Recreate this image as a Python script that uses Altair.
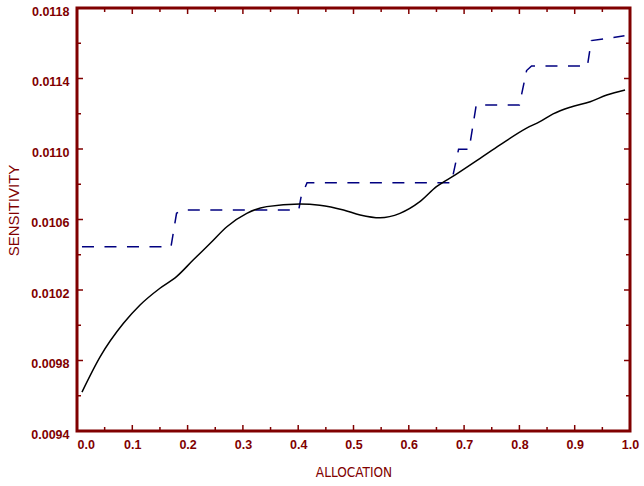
import altair as alt
import pandas as pd

# ---- data ----
curve_alloc = [0.009, 0.042, 0.084, 0.114, 0.150, 0.180, 0.210, 0.241, 0.271, 0.307,
               0.343, 0.403, 0.439, 0.482, 0.512, 0.548, 0.584, 0.620, 0.650, 0.684,
               0.729, 0.765, 0.813, 0.837, 0.861, 0.892, 0.928, 0.958, 0.991]
curve_sens = [0.009621, 0.009822, 0.010011, 0.010115, 0.010210, 0.010276, 0.010370,
              0.010465, 0.010559, 0.010635, 0.010673, 0.010688, 0.010681, 0.010654,
              0.010626, 0.010610, 0.010635, 0.010701, 0.010786, 0.010853, 0.010947,
              0.011023, 0.011118, 0.011155, 0.011199, 0.011237, 0.011268, 0.011306,
              0.011335]

step_alloc = [0.009, 0.170, 0.180, 0.190, 0.401, 0.405, 0.416, 0.677, 0.690, 0.709,
              0.722, 0.800, 0.813, 0.822, 0.923, 0.930, 0.990]
step_sens = [0.010446, 0.010446, 0.010635, 0.010654, 0.010654, 0.010725, 0.010809,
             0.010809, 0.010998, 0.010998, 0.011250, 0.011250, 0.011445, 0.011471,
             0.011471, 0.011615, 0.011642]

x_major = [0.0, 0.1, 0.2, 0.3, 0.4, 0.5, 0.6, 0.7, 0.8, 0.9, 1.0]
x_minor = [0.05, 0.15, 0.25, 0.35, 0.45, 0.55, 0.65, 0.75, 0.85, 0.95]
y_major = [0.0094, 0.0098, 0.0102, 0.0106, 0.0110, 0.0114, 0.0118]
y_minor = [0.0096, 0.0100, 0.0104, 0.0108, 0.0112, 0.0116]

# ---- styling ----
W, H = 553, 423
DARK = "#800000"
LABEL_FONT = "Liberation Sans"
XTITLE_FONT = "DejaVu Sans Condensed, Liberation Sans, sans-serif"
YTITLE_FONT = "Liberation Sans, sans-serif"

xscale = alt.Scale(domain=[0, 1], nice=False, zero=False)
yscale = alt.Scale(domain=[0.0094, 0.0118], nice=False, zero=False)

xaxis = alt.Axis(
    values=x_major, format=".1f", ticks=False, domain=False, grid=False,
    labelColor=DARK, labelFont=LABEL_FONT, labelFontSize=12.5, labelFontWeight="bold",
    labelPadding=7, labelOverlap=False,
    labelAlign={"condition": {"test": "datum.value === 0", "value": "left"}, "value": "center"},
    title="ALLOCATION", titleColor=DARK, titleFont=XTITLE_FONT, titleFontSize=13.5,
    titleFontWeight="normal", titleX=276.5, titleY=41, titleAlign="center",
    titleBaseline="middle",
)
yaxis = alt.Axis(
    values=y_major, format=".4f", ticks=False, domain=False, grid=False,
    labelColor=DARK, labelFont=LABEL_FONT, labelFontSize=12.5, labelFontWeight="bold",
    labelPadding=8, labelOverlap=False, labelOffset=3,
    title="SENSITIVITY", titleColor=DARK, titleFont=YTITLE_FONT, titleFontSize=15,
    titleFontWeight="normal", titleX=-64, titleY=202, titleAngle=-90,
    titleAlign="center", titleBaseline="middle",
)

X = alt.X("alloc:Q", scale=xscale, axis=xaxis)
Y = alt.Y("sens:Q", scale=yscale, axis=yaxis)

curve_df = pd.DataFrame({"alloc": curve_alloc, "sens": curve_sens})
step_df = pd.DataFrame({"alloc": step_alloc, "sens": step_sens})

step = alt.Chart(step_df).mark_line(
    color="#000080", strokeWidth=1.5, strokeDash=[12, 10.5]
).encode(x=X, y=Y)

curve = alt.Chart(curve_df).mark_line(
    color="black", strokeWidth=1.5, interpolate="monotone"
).encode(x=X, y=Y)


def xticks(vals, y0, y1):
    return alt.Chart(pd.DataFrame({"alloc": vals})).mark_rule(
        color=DARK, strokeWidth=1.5
    ).encode(x=X, y=alt.value(y0), y2=alt.value(y1))


def yticks(vals, x0, x1):
    return alt.Chart(pd.DataFrame({"sens": vals})).mark_rule(
        color=DARK, strokeWidth=1.5
    ).encode(y=Y, x=alt.value(x0), x2=alt.value(x1))


ticks = [
    xticks(x_major, H, H - 6), xticks(x_minor, H, H - 4),
    xticks(x_major, 0, 6), xticks(x_minor, 0, 4),
    yticks(y_major, 0, 6), yticks(y_minor, 0, 4),
    yticks(y_major, W, W - 6), yticks(y_minor, W, W - 4),
]

chart = alt.layer(step, curve, *ticks).properties(
    width=W, height=H,
    autosize=alt.AutoSizeParams(type="none"),
    padding={"left": 77, "top": 8, "right": 14, "bottom": 55},
    background="white",
).configure_view(stroke=DARK, strokeWidth=3)

chart.save("out.html", embed_options={"renderer": "svg", "actions": False})
